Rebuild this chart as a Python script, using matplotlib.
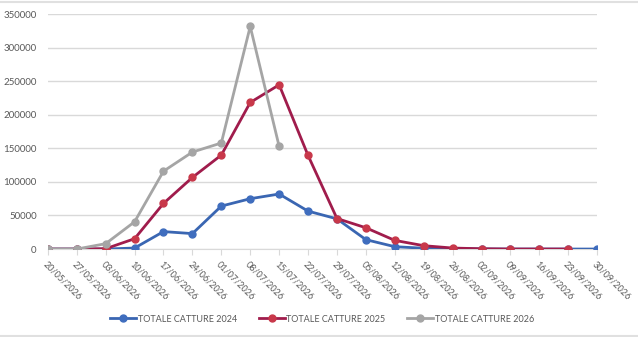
import numpy as np
import matplotlib
matplotlib.use("Agg")
import matplotlib.pyplot as plt

plt.rcParams['font.family'] = ['Lato', 'DejaVu Sans']

# ---- data ----
dates = ['20/05/2026', '27/05/2026', '03/06/2026', '10/06/2026', '17/06/2026',
         '24/06/2026', '01/07/2026', '08/07/2026', '15/07/2026', '22/07/2026',
         '29/07/2026', '05/08/2026', '12/08/2026', '19/08/2026', '26/08/2026',
         '02/09/2026', '09/09/2026', '16/09/2026', '23/09/2026', '30/09/2026']

catture_2024 = [0, 0, 0, 1500, 26000, 23000, 64000, 75000, 82000, 56500,
                45000, 14000, 3500, 1200, 600, 200, 0, 0, 0, 0]
catture_2025 = [0, 0, 500, 15400, 68000, 106700, 140000, 218400, 244700, 139500,
                45500, 31700, 12900, 5000, 1500, 400, 0, 0, 0]
catture_2026 = [0, 0, 8000, 40600, 116000, 144500, 158000, 331700, 153000]

series = [
    ('TOTALE CATTURE 2024', catture_2024, '#3A66B2', '#3F6DBE'),
    ('TOTALE CATTURE 2025', catture_2025, '#A01C4C', '#C8384A'),
    ('TOTALE CATTURE 2026', catture_2026, '#A5A5A5', '#A5A5A5'),
]

fig = plt.figure(figsize=(6.38, 3.37), dpi=100)
ax = fig.add_axes([0.075, 0.261, 0.861, 0.697])

for name, vals, lc, mc in series:
    x = np.arange(len(vals))
    ax.plot(x, vals, color=lc, lw=2.0, marker='o', markersize=5,
            markerfacecolor=mc, markeredgecolor=mc, label=name, zorder=3)

ax.set_xlim(0, len(dates) - 1)
ax.set_ylim(0, 350000)
ax.set_yticks(np.arange(0, 350001, 50000))
ax.yaxis.grid(True, color='#D9D9D9', lw=1)
ax.set_axisbelow(True)

ax.set_xticks(np.arange(len(dates)))
ax.set_xticklabels(dates, rotation=-45, ha='left', rotation_mode='anchor',
                   fontsize=6.5, color='#595959')
ax.tick_params(axis='y', labelsize=7, labelcolor='#595959', length=0, pad=8)
ax.tick_params(axis='x', length=4, color='#D9D9D9', pad=4)

for s in ['top', 'right', 'left']:
    ax.spines[s].set_visible(False)
ax.spines['bottom'].set_color('#D9D9D9')

fig.legend(loc='center', bbox_to_anchor=(322 / 638, 1 - 319 / 337), ncol=3,
           frameon=False, fontsize=6.5, handlelength=2.9, handletextpad=0.15,
           columnspacing=2.4, labelcolor='#595959')

# light frame of the chart box
fig.add_artist(plt.Line2D([0, 1], [0.995, 0.995], color='#E0E0E0', lw=1.5,
                          transform=fig.transFigure))
fig.add_artist(plt.Line2D([0, 1], [0.003, 0.003], color='#E0E0E0', lw=1.5,
                          transform=fig.transFigure))

fig.savefig('out.png', dpi=100)
